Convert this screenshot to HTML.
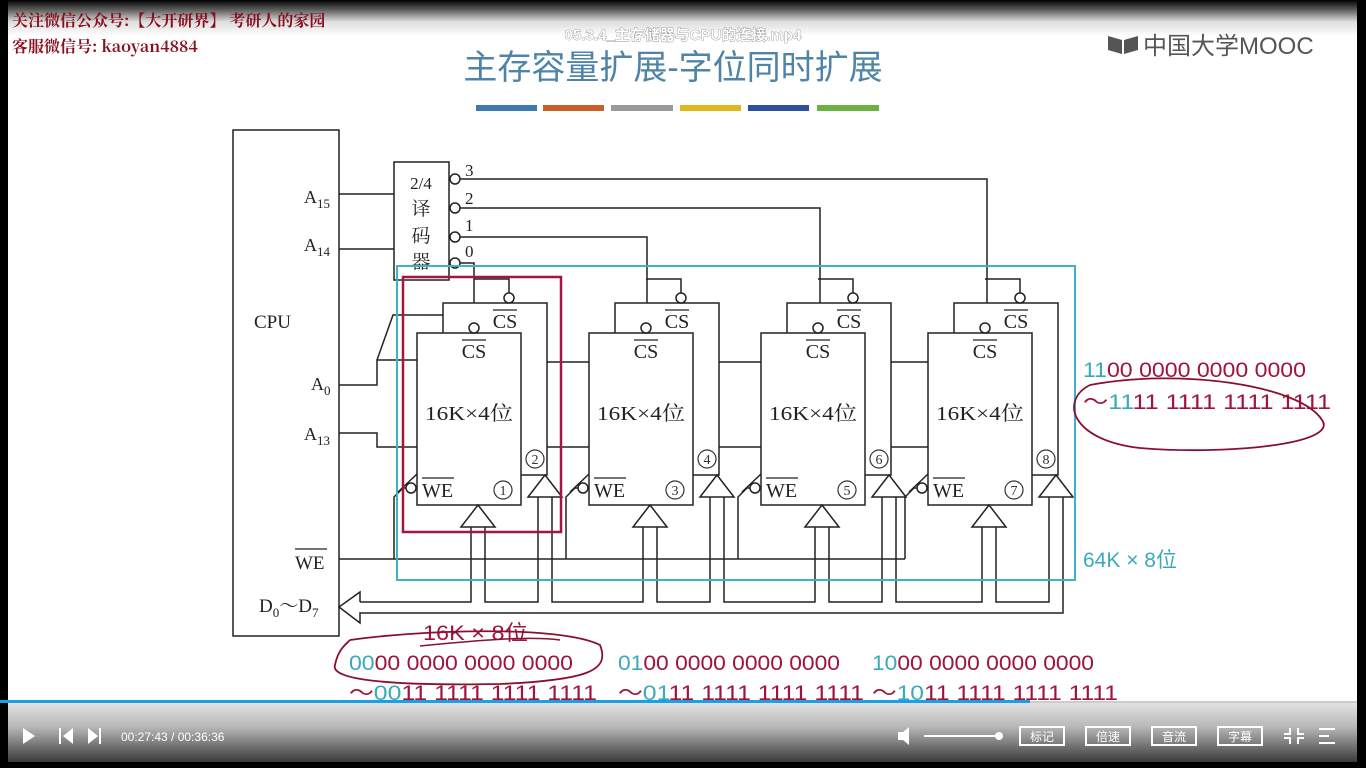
<!DOCTYPE html>
<html><head><meta charset="utf-8"><style>
html,body{margin:0;padding:0;background:#000;width:1366px;height:768px;overflow:hidden}
svg{display:block}
</style></head><body>
<svg width="1366" height="768" viewBox="0 0 1366 768" xmlns="http://www.w3.org/2000/svg">
<defs>
<linearGradient id="top" x1="0" y1="0" x2="0" y2="1">
<stop offset="0" stop-color="#000"/><stop offset="0.25" stop-color="#555"/><stop offset="0.6" stop-color="#ddd"/><stop offset="1" stop-color="#fff"/></linearGradient>
<linearGradient id="bar" x1="0" y1="0" x2="0" y2="1">
<stop offset="0" stop-color="#e2e2e2"/><stop offset="0.4" stop-color="#b8b8b8"/><stop offset="1" stop-color="#3a3a3a"/></linearGradient>
<g id="chip">
<rect x="26" y="303" width="104" height="172" fill="#fff" stroke="#222" stroke-width="1.5"/>
<rect x="0" y="333" width="104" height="172" fill="#fff" stroke="#222" stroke-width="1.5"/>
<circle cx="57" cy="328" r="5" fill="#fff" stroke="#222" stroke-width="1.5"/>
<path d="M92 293V279H57" fill="none" stroke="#222" stroke-width="1.5"/>
<circle cx="92" cy="298" r="5" fill="#fff" stroke="#222" stroke-width="1.5"/>
<text x="57" y="358" font-size="20" text-anchor="middle">CS</text>
<line x1="45" y1="340" x2="69" y2="340" stroke="#222" stroke-width="1.3"/>
<text x="88" y="328" font-size="20" text-anchor="middle">CS</text>
<line x1="76" y1="310" x2="100" y2="310" stroke="#222" stroke-width="1.3"/>
<text x="8" y="420" font-size="20" textLength="88" lengthAdjust="spacingAndGlyphs">16K×4位</text>
<circle cx="-6" cy="488" r="5" fill="#fff" stroke="#222" stroke-width="1.5"/>
<path d="M-23 559V497L-14 488H-11M-19 492L0 474" fill="none" stroke="#222" stroke-width="1.5"/>
<text x="5" y="497" font-size="20">WE</text>
<line x1="5" y1="478" x2="37" y2="478" stroke="#222" stroke-width="1.3"/>
<circle cx="86" cy="490" r="9" fill="none" stroke="#333" stroke-width="1.2"/>
<circle cx="118" cy="459" r="9" fill="none" stroke="#333" stroke-width="1.2"/>
<polygon points="61,505 44,527 54,527 68,527 78,527" fill="#fff" stroke="#222" stroke-width="1.5"/>
<polygon points="128,475 111,497 145,497" fill="#fff" stroke="#222" stroke-width="1.5"/>
</g>
</defs>
<rect x="8" y="0" width="1349" height="703" fill="#fff"/>
<rect x="8" y="0" width="1349" height="36" fill="url(#top)"/>
<rect x="8" y="703" width="1349" height="59" fill="url(#bar)"/>
<rect x="0" y="700" width="1030" height="3" fill="#1a9fe8"/>
<rect x="1030" y="701" width="327" height="2" fill="#ccc"/>

<g font-family="'Liberation Sans','Noto Sans CJK SC',sans-serif">
<text x="12" y="26" font-size="16" font-weight="bold" fill="#8a1020" font-family="'Noto Serif CJK SC','WenQuanYi Zen Hei',serif">关注微信公众号:【大开研界】 考研人的家园</text>
<text x="12" y="52" font-size="16" font-weight="bold" fill="#8a1020" font-family="'Noto Serif CJK SC','WenQuanYi Zen Hei',serif">客服微信号: kaoyan4884</text>
<text x="683" y="40" font-size="15" font-weight="bold" fill="#fff" stroke="#666" stroke-width="0.6" paint-order="stroke" text-anchor="middle">05.3.4_主存储器与CPU的连接.mp4</text>
<text x="673" y="79" font-size="34" fill="#4d84a8" text-anchor="middle">主存容量扩展-字位同时扩展</text>
<rect x="476" y="105" width="61" height="6" fill="#3e78ad"/>
<rect x="543" y="105" width="61" height="6" fill="#c9602b"/>
<rect x="611" y="105" width="62" height="6" fill="#9a9a9a"/>
<rect x="680" y="105" width="61" height="6" fill="#e1b71f"/>
<rect x="748" y="105" width="61" height="6" fill="#2d4f9c"/>
<rect x="817" y="105" width="62" height="6" fill="#6cb144"/>
<path d="M1108 36l14 4v14l-14-4zM1124 40l14-4v14l-14 4z" fill="#555"/>
<text x="1143" y="54" font-size="24" fill="#555">中国大学MOOC</text>
</g>

<g font-family="'Liberation Serif','Noto Serif CJK SC',serif" fill="#222" stroke-linejoin="miter">
<rect x="233" y="130" width="106" height="506" fill="#fff" stroke="#222" stroke-width="1.5"/>
<text x="254" y="328" font-size="19">CPU</text>
<text x="304" y="203" font-size="18">A<tspan font-size="13" dy="5">15</tspan></text>
<text x="304" y="251" font-size="18">A<tspan font-size="13" dy="5">14</tspan></text>
<text x="311" y="390" font-size="18">A<tspan font-size="13" dy="5">0</tspan></text>
<text x="304" y="440" font-size="18">A<tspan font-size="13" dy="5">13</tspan></text>
<text x="295" y="569" font-size="19">WE</text>
<line x1="295" y1="549" x2="327" y2="549" stroke="#222" stroke-width="1.3"/>
<text x="259" y="612" font-size="19">D<tspan font-size="13" dy="5">0</tspan><tspan dy="-5">～D</tspan><tspan font-size="13" dy="5">7</tspan></text>

<rect x="394" y="162" width="55" height="118" fill="#fff" stroke="#222" stroke-width="1.5"/>
<text x="421" y="189" font-size="17" text-anchor="middle">2/4</text>
<text x="421" y="215" font-size="19" text-anchor="middle">译</text>
<text x="421" y="242" font-size="19" text-anchor="middle">码</text>
<text x="421" y="268" font-size="19" text-anchor="middle">器</text>
<g stroke="#222" stroke-width="1.5" fill="none">
<path d="M339 194H394M339 249H394"/>
<path d="M460 179H987V323M460 208H820V323M460 237H647V323M460 263H474V323"/>
<path d="M339 385H377V360H417M377 360L393 315H443M339 433H377V447H417"/>
<path d="M547 362H589M719 362H761M891 362H928M547 447H589M719 447H761M891 447H928"/>
<path d="M339 559H905"/>
<path d="M360 602H471V527M485 527V602H538V497M552 497V602H643V527M657 527V602H710V497M724 497V602H815V527M829 527V602H882V497M896 497V602H982V527M996 527V602H1049V497M1063 497V613H360V623L339 607L360 592V602"/>
</g>
<g fill="#fff" stroke="#222" stroke-width="1.5">
<circle cx="455" cy="179" r="5"/><circle cx="455" cy="208" r="5"/><circle cx="455" cy="237" r="5"/><circle cx="455" cy="263" r="5"/>
</g>
<text x="465" y="176" font-size="17">3</text><text x="465" y="204" font-size="17">2</text><text x="465" y="231" font-size="17">1</text><text x="465" y="257" font-size="17">0</text>
<use href="#chip" transform="translate(417,0)"/>
<use href="#chip" transform="translate(589,0)"/>
<use href="#chip" transform="translate(761,0)"/>
<use href="#chip" transform="translate(928,0)"/>
<g font-size="14" text-anchor="middle" fill="#333">
<text x="503" y="495">1</text><text x="535" y="464">2</text>
<text x="675" y="495">3</text><text x="707" y="464">4</text>
<text x="847" y="495">5</text><text x="879" y="464">6</text>
<text x="1014" y="495">7</text><text x="1046" y="464">8</text>
</g>
</g>

<rect x="397" y="266" width="678" height="314" fill="none" stroke="#3fb2c6" stroke-width="2"/>
<rect x="403" y="277" width="158" height="255" fill="none" stroke="#a5163f" stroke-width="2.5"/>

<g font-family="'Liberation Sans','Noto Sans CJK SC',sans-serif" font-size="21" fill="#a0143c">
<text x="1083" y="377" textLength="223" lengthAdjust="spacingAndGlyphs"><tspan fill="#3aaabb">11</tspan>00 0000 0000 0000</text>
<text x="1083" y="409" textLength="248" lengthAdjust="spacingAndGlyphs">～<tspan fill="#3aaabb">11</tspan>11 1111 1111 1111</text>
<path d="M1090 385C1180 368 1300 385 1322 420C1340 445 1220 455 1140 448C1070 440 1060 400 1090 385" fill="none" stroke="#8a1030" stroke-width="1.8"/>
<text x="1083" y="567" fill="#3aaabb">64K × 8位</text>
<text x="423" y="640" textLength="105" lengthAdjust="spacingAndGlyphs">16K × 8位</text>
<path d="M420 646C480 640 530 636 560 640" stroke="#8a1030" stroke-width="1.5" fill="none"/>
<path d="M350 640C420 630 560 625 600 645C610 670 590 680 500 684C390 686 330 680 335 665C338 650 345 645 350 640" fill="none" stroke="#8a1030" stroke-width="1.8"/>
<text x="349" y="670" textLength="224" lengthAdjust="spacingAndGlyphs"><tspan fill="#3aaabb">00</tspan>00 0000 0000 0000</text>
<text x="349" y="700" textLength="248" lengthAdjust="spacingAndGlyphs">～<tspan fill="#3aaabb">00</tspan>11 1111 1111 1111</text>
<text x="618" y="670" textLength="222" lengthAdjust="spacingAndGlyphs"><tspan fill="#3aaabb">01</tspan>00 0000 0000 0000</text>
<text x="618" y="700" textLength="246" lengthAdjust="spacingAndGlyphs">～<tspan fill="#3aaabb">01</tspan>11 1111 1111 1111</text>
<text x="872" y="670" textLength="222" lengthAdjust="spacingAndGlyphs"><tspan fill="#3aaabb">10</tspan>00 0000 0000 0000</text>
<text x="872" y="700" textLength="246" lengthAdjust="spacingAndGlyphs">～<tspan fill="#3aaabb">10</tspan>11 1111 1111 1111</text>
</g>

<g fill="#fff" font-family="'Liberation Sans','Noto Sans CJK SC',sans-serif">
<polygon points="23,728 35,736 23,744"/>
<rect x="59" y="728" width="2" height="16"/><polygon points="73,728 63,736 73,744"/>
<polygon points="88,728 98,736 88,744"/><rect x="99" y="728" width="2" height="16"/>
<text x="121" y="741" font-size="12">00:27:43 / 00:36:36</text>
<polygon points="898,732 903,732 909,727 909,745 903,740 898,740"/>
<rect x="924" y="735" width="74" height="2"/><circle cx="999" cy="736" r="4"/>
<g fill="none" stroke="#fff" stroke-width="2">
<rect x="1020" y="727" width="44" height="18"/><rect x="1086" y="727" width="44" height="18"/>
<rect x="1152" y="727" width="44" height="18"/><rect x="1218" y="727" width="44" height="18"/>
</g>
<text x="1042" y="741" font-size="12" text-anchor="middle">标记</text>
<text x="1108" y="741" font-size="12" text-anchor="middle">倍速</text>
<text x="1174" y="741" font-size="12" text-anchor="middle">音流</text>
<text x="1240" y="741" font-size="12" text-anchor="middle">字幕</text>
<path d="M1290 728v6h-6M1298 728v6h6M1290 744v-6h-6M1298 744v-6h6" stroke="#fff" stroke-width="2" fill="none"/>
<path d="M1319 729h16M1319 736h10M1319 743h16" stroke="#fff" stroke-width="2"/>
</g>
</svg>
</body></html>
